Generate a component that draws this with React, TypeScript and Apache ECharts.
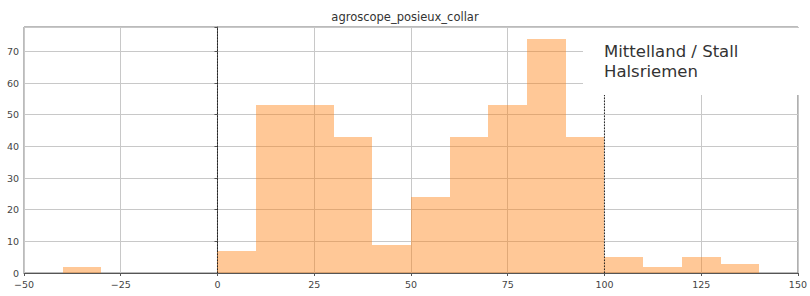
import React, { useEffect, useRef } from "react";
import * as echarts from "echarts";

const binStarts = [-40, 0, 10, 20, 30, 40, 50, 60, 70, 80, 90, 100, 110, 120, 130];
const binWidth = 10;
const counts = [2, 7, 53, 53, 43, 9, 24, 43, 53, 74, 43, 5, 2, 5, 3];
const vLines = [0, 100];
const title = "agroscope_posieux_collar";
const boxText = "Mittelland / Stall\nHalsriemen";

export default function App() {
  const ref = useRef<HTMLDivElement>(null);
  useEffect(() => {
    if (!ref.current) return;
    const chart = echarts.init(ref.current, null, { renderer: "svg" });
    const data = binStarts.map((s, i) => [s, s + binWidth, counts[i]]);
    const ymax = Math.max(...counts) * 1.05;
    chart.setOption({
      animation: false,
      title: {
        text: title,
        left: "center",
        top: 6,
        textStyle: { fontFamily: "DejaVu Sans", fontSize: 11.5, fontWeight: "normal", color: "#333" },
      },
      grid: { left: 24, right: 10, top: 27, bottom: 23, show: true, borderColor: "#777", borderWidth: 1 },
      xAxis: {
        type: "value",
        min: -50,
        max: 150,
        interval: 25,
        axisLine: { show: true, onZero: false, lineStyle: { color: "#555" } },
        axisTick: { show: true, length: 3, lineStyle: { color: "#555" } },
        axisLabel: { color: "#444", fontFamily: "DejaVu Sans", fontSize: 9.5, margin: 6, formatter: (v: number) => (v < 0 ? "\u2212" + Math.abs(v) : String(v)) },
        splitLine: { show: true, lineStyle: { color: "#c8c8c8", width: 1 } },
      },
      yAxis: {
        type: "value",
        min: 0,
        max: ymax,
        interval: 10,
        axisLine: { show: true, lineStyle: { color: "#555" } },
        axisTick: { show: true, length: 3, lineStyle: { color: "#555" } },
        axisLabel: {
          color: "#444",
          fontFamily: "DejaVu Sans",
          fontSize: 9.5,
          margin: 5,
          formatter: (v: number) => (Math.abs(v % 10) < 1e-6 ? String(v) : ""),
        },
        splitLine: { show: true, lineStyle: { color: "#c8c8c8", width: 1 } },
      },
      series: [
        {
          type: "custom",
          z: 3,
          renderItem: (params: any, api: any) => {
            const p0 = api.coord([api.value(0), 0]);
            const p1 = api.coord([api.value(1), api.value(2)]);
            const x0 = Math.round(p0[0]);
            const x1 = Math.round(p1[0]);
            const yb = Math.round(p0[1]);
            const yt = Math.round(p1[1]);
            return {
              type: "rect",
              shape: { x: x0, y: yt, width: x1 - x0, height: yb - yt },
              style: { fill: "rgba(255,127,14,0.43)" },
            };
          },
          encode: { x: [0, 1], y: 2 },
          data,
        },
        ...vLines.map((x) => ({
          type: "line",
          z: 4,
          symbol: "none",
          data: [[x, 0], [x, ymax]],
          lineStyle: { color: "#222", width: 1, type: [1.5, 1.5] },
        })),
      ],
      graphic: [
        {
          type: "rect",
          z: 100,
          shape: { x: 583, y: 28, width: 216, height: 67 },
          style: { fill: "#fff" },
        },
        {
          type: "text",
          z: 101,
          x: 604,
          y: 41,
          style: {
            text: boxText,
            font: "16.5px 'DejaVu Sans'",
            fill: "#333",
            lineHeight: 20,
          },
        },
      ],
    });
    return () => chart.dispose();
  }, []);
  return <div ref={ref} style={{ width: 810, height: 296, position: "absolute", left: 0, top: 0 }} />;
}
